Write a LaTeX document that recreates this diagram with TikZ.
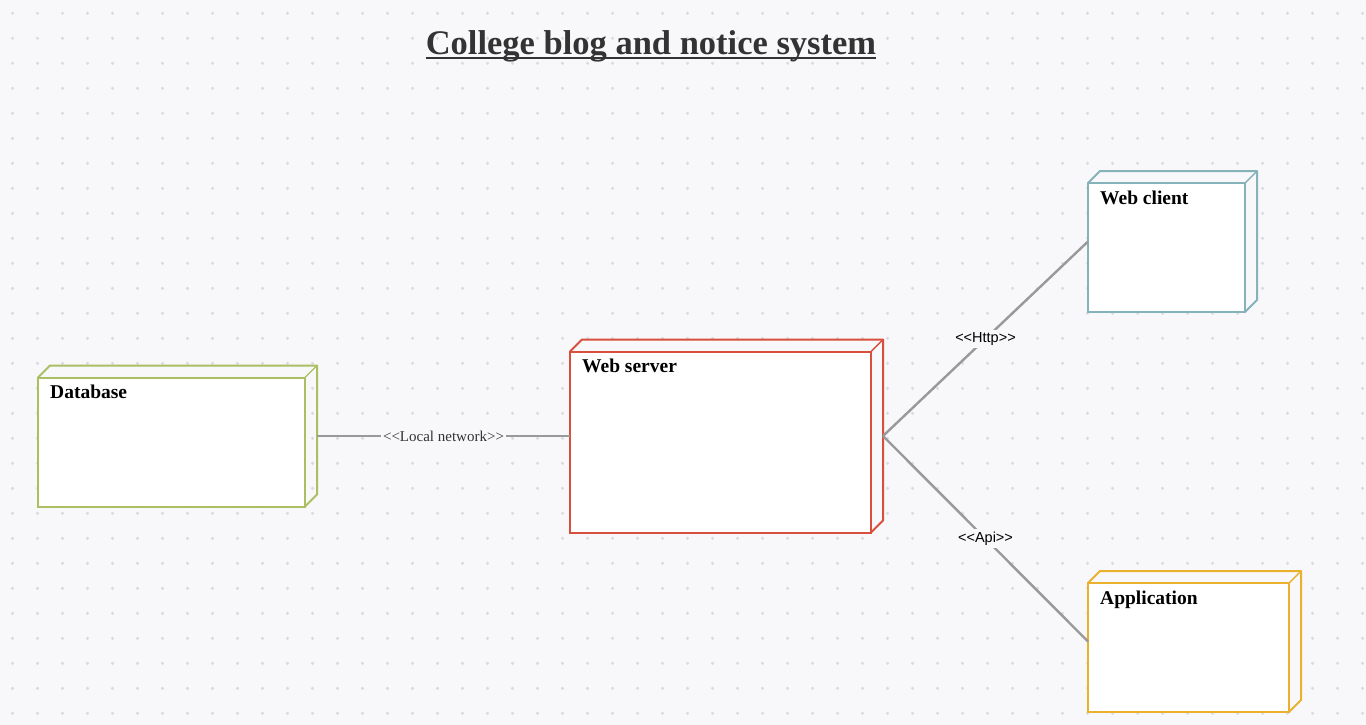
\documentclass[tikz,border=0pt]{standalone}
\usepackage{fontspec}
\setmainfont{Liberation Serif}
\newfontfamily\arialfont{Liberation Sans}
\usetikzlibrary{calc}
\definecolor{bgc}{HTML}{F8F8FA}
\definecolor{dotc}{HTML}{DADBE1}
\definecolor{dbc}{HTML}{A9BF62}
\definecolor{wsc}{HTML}{D94F3D}
\definecolor{wcc}{HTML}{86B3B9}
\definecolor{apc}{HTML}{EAB12F}
\definecolor{linec}{HTML}{999999}
\definecolor{titlec}{HTML}{333333}
\newcommand\deploybox[2]{%
  \draw[#2, line width=2, fill=white] (#1.south west) rectangle ($(#1.north east)+(-12,12)$);
  \draw[#2, line width=2, line join=round] ($(#1.north west)+(0,12)$) -- ($(#1.north west)+(12,0)$) -- (#1.north east) -- ($(#1.south east)+(0,-12)$) -- ($(#1.south east)+(-12,0)$);
  \draw[#2, line width=1.4] ($(#1.north east)+(-12,12)$) -- (#1.north east);
}
\begin{document}
\begin{tikzpicture}[x=1pt,y=-1pt,
  bbox/.style={draw=none, inner sep=0, outer sep=0, anchor=north west},
  lbl/.style={inner sep=0, anchor=base west, font=\fontsize{19.5}{22}\selectfont\bfseries},
  conn/.style={linec, line width=2.4},
  elbl/.style={fill=bgc, inner sep=2.5, text=black}]
\useasboundingbox (0,0) rectangle (1366,725);
\fill[bgc] (0,0) rectangle (1366,725);
\foreach \i in {0,...,54} {
  \foreach \j in {0,...,28} {
    \fill[dotc] (12.5+25*\i, 13.3+25*\j) circle (1.7);
  }
}
% title
\node[font=\fontsize{34.5}{40}\selectfont\bfseries, text=titlec, inner sep=0, anchor=base] (title) at (651,55) {College blog and notice system};
\draw[titlec, line width=2] ($(title.base west)+(0,3.5)$) -- ($(title.base east)+(0,3.5)$);
% nodes
\node[bbox, minimum width=279, minimum height=141] (db) at (38,365.5) {};
\node[bbox, minimum width=313, minimum height=193] (ws) at (570,339.5) {};
\node[bbox, minimum width=169, minimum height=141] (wc) at (1088,171) {};
\node[bbox, minimum width=213, minimum height=141] (ap) at (1088,571) {};
\deploybox{db}{dbc}
\deploybox{ws}{wsc}
\deploybox{wc}{wcc}
\deploybox{ap}{apc}
\node[lbl] (dbl) at ($(db.north west)+(12,33)$) {Database};
\node[lbl] (wsl) at ($(ws.north west)+(12,33)$) {Web server};
\node[lbl] (wcl) at ($(wc.north west)+(12,33)$) {Web client};
\node[lbl] (apl) at ($(ap.north west)+(12,33)$) {Application};
% connectors
\draw[conn] (db.east) -- node[elbl, text=titlec, font=\fontsize{15}{15}\selectfont] {<{}<Local network>{}>} (ws.west);
\draw[conn] (ws.east) -- node[elbl, font=\arialfont\fontsize{14.5}{15}\selectfont] {<{}<Http>{}>} (wc.west);
\draw[conn] (ws.east) -- node[elbl, font=\arialfont\fontsize{14.5}{15}\selectfont] {<{}<Api>{}>} (ap.west);
\end{tikzpicture}
\end{document}
